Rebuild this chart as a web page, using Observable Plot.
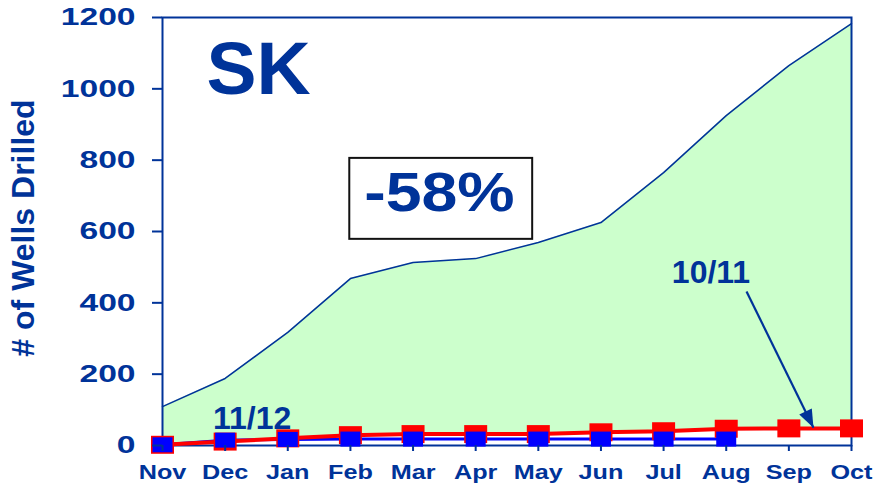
<!DOCTYPE html>
<html>
<head>
<meta charset="utf-8">
<script src="https://cdn.jsdelivr.net/npm/d3@7"></script>
<script src="https://cdn.jsdelivr.net/npm/@observablehq/plot@0.6"></script>
<style>
  html, body { margin: 0; padding: 0; background: #ffffff; }
  svg { display: block; }
</style>
</head>
<body>
<script>
// ---- Data ----
const months = ["Nov", "Dec", "Jan", "Feb", "Mar", "Apr", "May", "Jun", "Jul", "Aug", "Sep", "Oct"];
const wells0910 = [109, 188, 317, 468, 513, 524, 569, 625, 765, 925, 1065, 1183];
const wells1011 = [2, 11, 20, 29, 32, 32, 32, 37, 40, 47, 48, 48];
const wells1112 = [2, 15, 17, 18, 18, 18, 18, 18, 18, 18];
const yTicks = [0, 200, 400, 600, 800, 1000, 1200];

// annotations (in data units: x = month index, y = wells)
const titleLabel = [{text: "SK", x: 1.533, y: 1053}];
const changeLabel = [{text: "-58%", x: 4.42, y: 709}];
const changeBox = [{x1: 2.99, x2: 5.91, y1: 578, y2: 805}];
const seriesLabels = [
  {text: "11/12", x: 1.43, y: 74},
  {text: "10/11", x: 8.757, y: 485}
];
const arrowLine = [{x1: 9.324, y1: 432, x2: 10.393, y2: 50}];
const yLabel = "# of Wells Drilled";

// ---- Tables ----
const rows0910 = wells0910.map((v, i) => ({i, v}));
const rows1011 = wells1011.map((v, i) => ({i, v}));
const rows1112 = wells1112.map((v, i) => ({i, v}));

const navy = "#003399";
const font = "'Liberation Sans', Arial, sans-serif";

const rectSymbol = (w, h) => ({draw(ctx) { ctx.rect(-w / 2, -h / 2, w, h); }});
const headSymbol = {draw(ctx) { ctx.moveTo(0, 0); ctx.lineTo(-7, 18); ctx.lineTo(7, 18); ctx.closePath(); }};

const chart = Plot.plot({
  width: 881,
  height: 485,
  marginLeft: 162,
  marginRight: 30,
  marginTop: 17,
  marginBottom: 40,
  style: {fontFamily: font, fontWeight: "bold", color: navy, background: "#ffffff", overflow: "visible"},
  x: {type: "linear", domain: [0, 11]},
  y: {domain: [0, 1200]},
  marks: [
    Plot.areaY(rows0910, {x: "i", y: "v", fill: "#ccffcc"}),
    Plot.lineY(rows0910, {x: "i", y: "v", stroke: navy, strokeWidth: 1.5}),
    Plot.areaY(rows1011, {x: "i", y: "v", fill: "#ffffff"}),
    Plot.frame({stroke: navy, strokeWidth: 2}),
    Plot.lineY(rows1112, {x: "i", y: "v", stroke: "#0000ff", strokeWidth: 3}),
    Plot.lineY(rows1011, {x: "i", y: "v", stroke: "#ff0000", strokeWidth: 4}),
    Plot.dot(rows1011, {x: "i", y: "v", symbol: rectSymbol(23, 18), fill: "#ff0000", stroke: "none"}),
    Plot.dot(rows1112, {x: "i", y: "v", symbol: rectSymbol(20, 15), fill: "#0000ff", stroke: "none"}),
    Plot.rect(changeBox, {x1: "x1", x2: "x2", y1: "y1", y2: "y2", fill: "#ffffff", stroke: "#111111", strokeWidth: 2}),
    Plot.text(titleLabel, {x: "x", y: "y", text: "text", fontSize: 75, fill: navy}),
    Plot.text(changeLabel, {x: "x", y: "y", text: "text", fontSize: 56, fill: navy}),
    Plot.text(seriesLabels, {x: "x", y: "y", text: "text", fontSize: 32, fill: navy}),
    Plot.link(arrowLine, {x1: "x1", y1: "y1", x2: "x2", y2: "y2", stroke: navy, strokeWidth: 2.2}),
    Plot.dot(arrowLine, {x: "x2", y: "y2", symbol: headSymbol, rotate: 153.8, fill: navy, stroke: "none"}),
    Plot.text([yLabel], {frameAnchor: "left", textAnchor: "middle", rotate: -90, dx: -138.5, dy: -3.5, fontSize: 32, fill: navy}),
    Plot.axisX({ticks: months.map((m, i) => i), tickFormat: i => months[i], tickSize: 6, tickPadding: 13, fontSize: 21, strokeWidth: 2, label: null}),
    Plot.axisY({ticks: yTicks, tickFormat: d => String(d), tickSize: 10, tickPadding: 17, fontSize: 24, strokeWidth: 2, label: null})
  ]
});

document.body.append(chart);

// horizontally widen tick labels to match the reference's wide lettering
function stretch(el, f) {
  const w = el.getComputedTextLength();
  el.setAttribute("textLength", w * f);
  el.setAttribute("lengthAdjust", "spacingAndGlyphs");
}
chart.querySelectorAll('g[aria-label="y-axis tick label"] text').forEach(t => stretch(t, 1.4));
chart.querySelectorAll('g[aria-label="x-axis tick label"] text').forEach(t => stretch(t, 1.2));
chart.querySelectorAll("text").forEach(t => { if (t.textContent === "-58%") stretch(t, 1.15); });
</script>
</body>
</html>
